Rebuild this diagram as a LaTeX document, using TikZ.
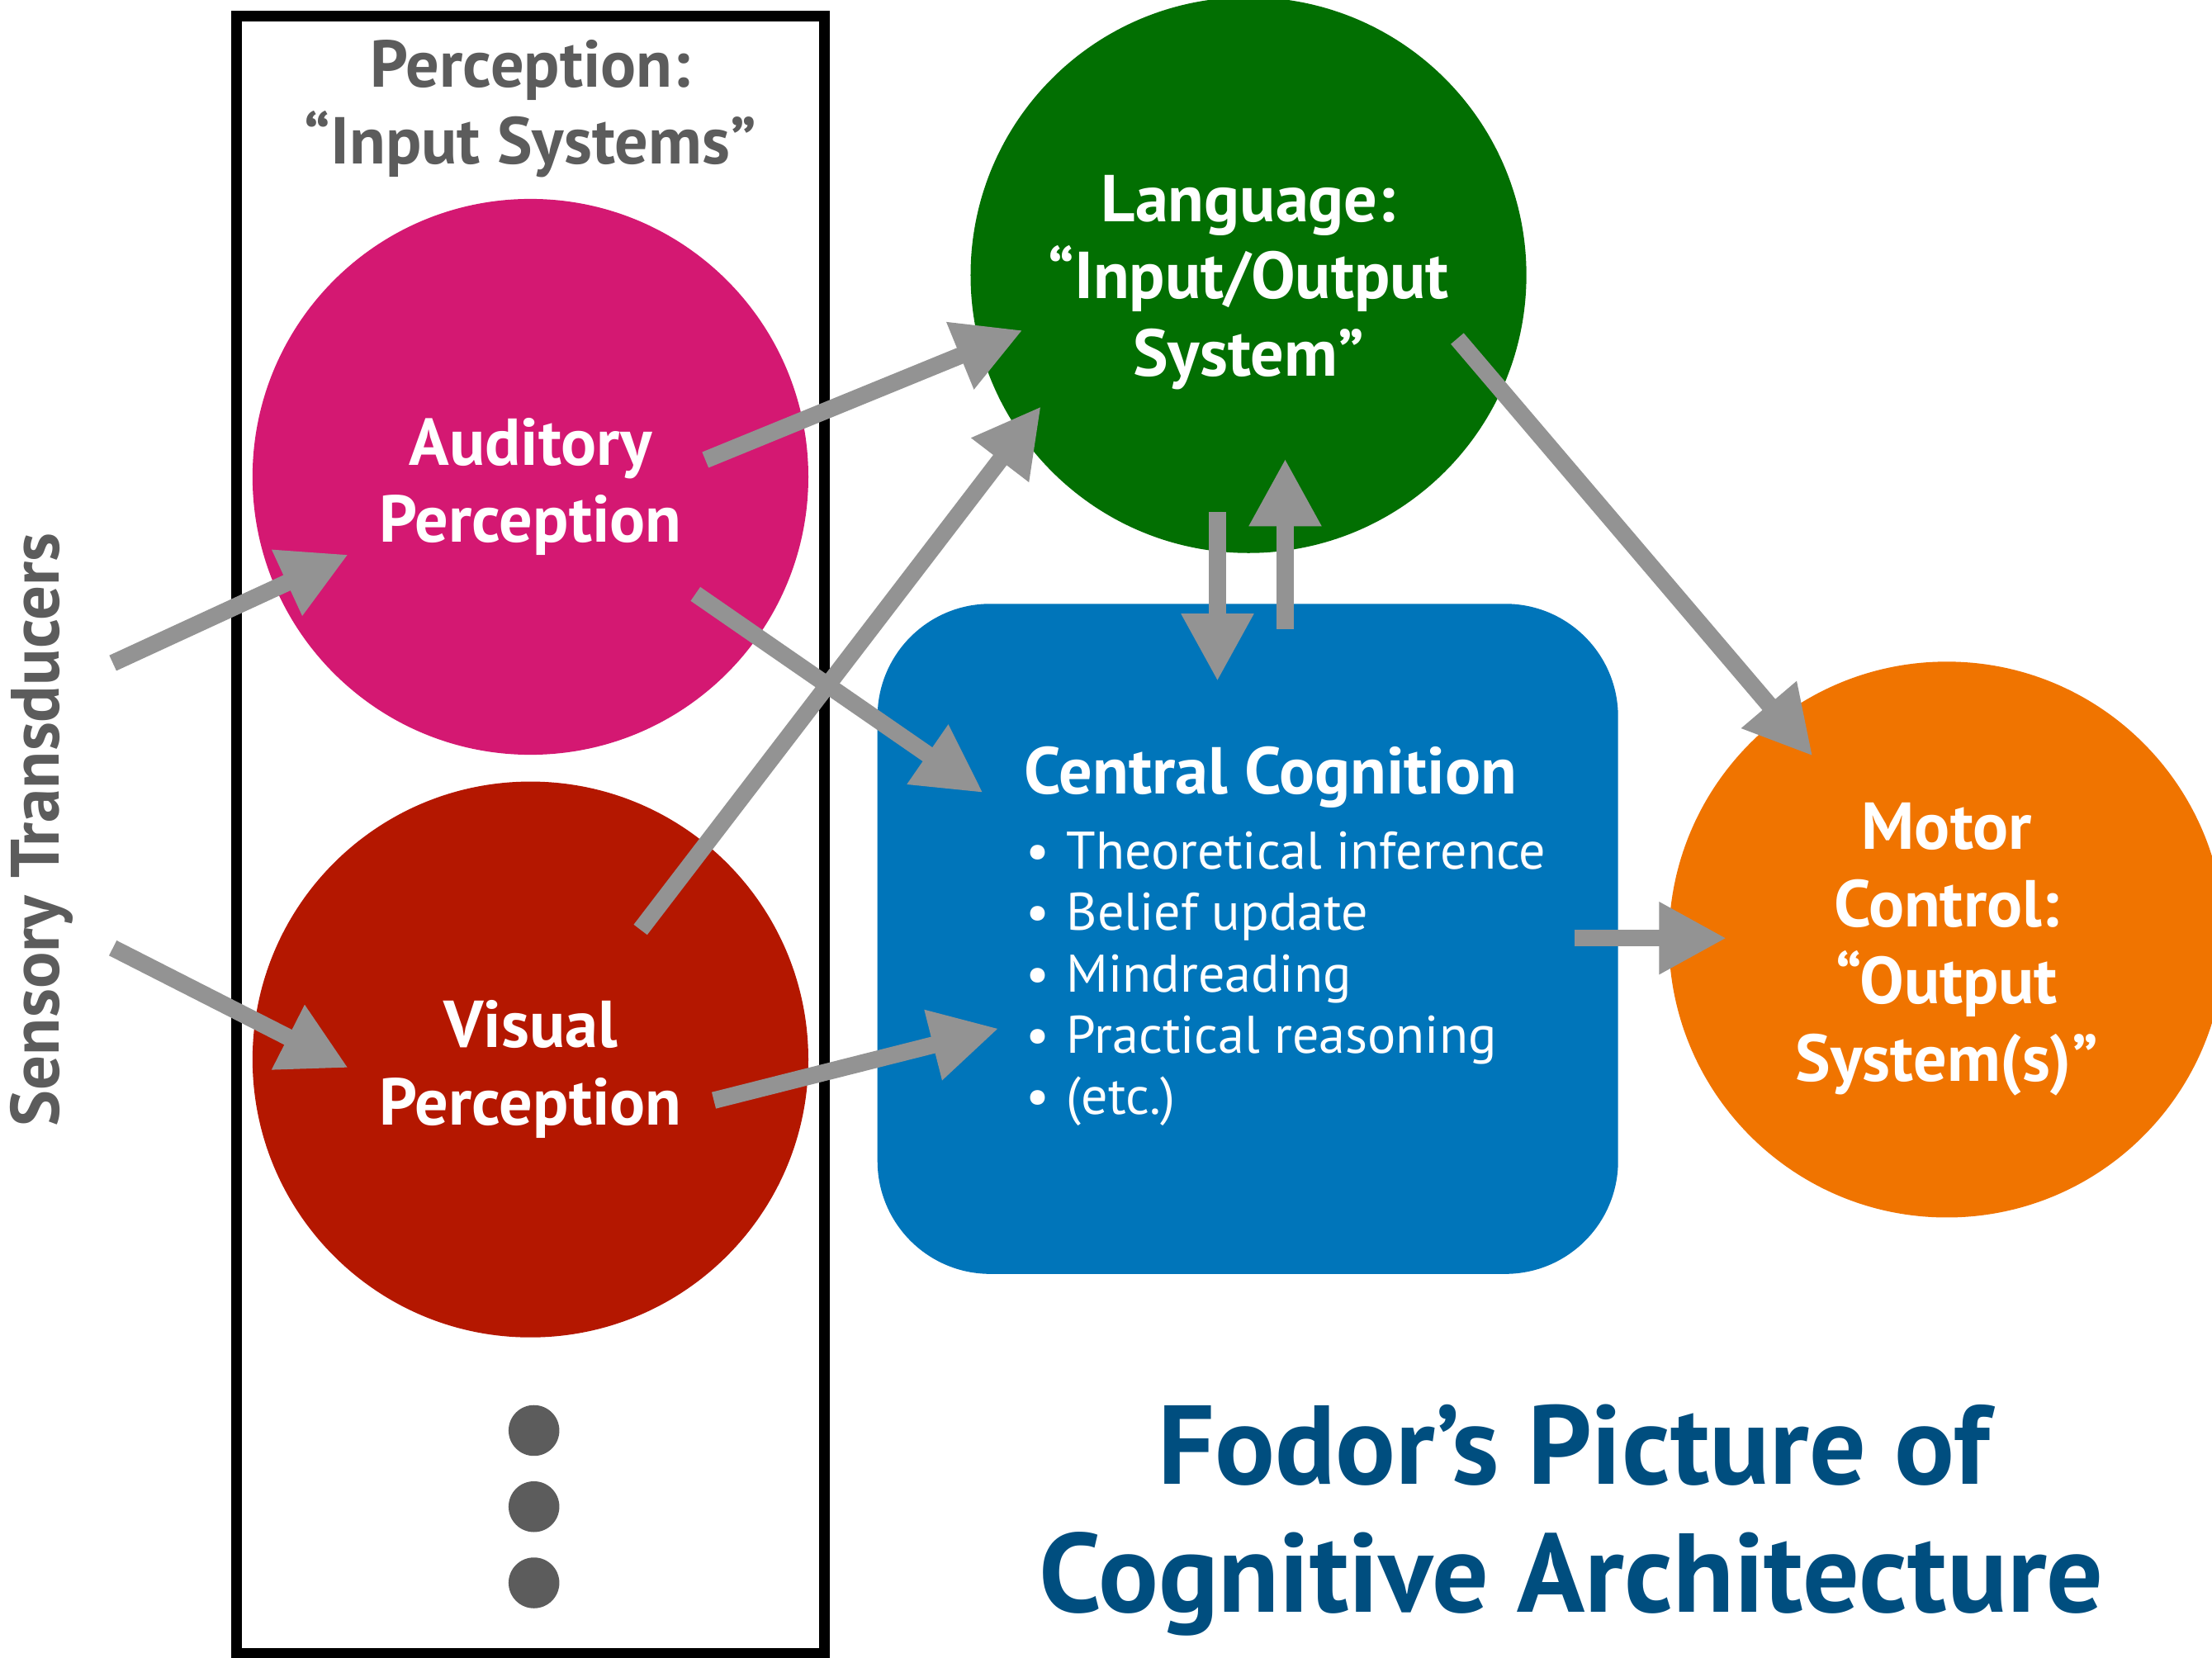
\documentclass[tikz,border=0pt]{standalone}
\usepackage{fontspec}
\setmainfont{PT Sans}
\usetikzlibrary{arrows.meta}
\definecolor{pinkc}{RGB}{212,24,114}
\definecolor{redc}{RGB}{180,23,0}
\definecolor{greenc}{RGB}{2,111,2}
\definecolor{orangec}{RGB}{240,116,0}
\definecolor{bluec}{RGB}{0,117,186}
\definecolor{arrowc}{RGB}{147,147,147}
\definecolor{grayt}{RGB}{92,92,92}
\definecolor{titleblue}{RGB}{0,78,127}
\tikzset{
  bubble/.style={circle, minimum size=394pt, inner sep=0pt},
  lbl/.style={inner sep=0pt, text=white, align=center,
    font=\fontsize{47}{54.7}\selectfont\bfseries},
  cbox/.style={rectangle, rounded corners=80pt, fill=bluec, minimum width=525pt, minimum height=475pt, inner sep=0pt},
  bullet/.style={anchor=base west, inner sep=0pt, text=white, font=\fontsize{37.5}{43.5}\selectfont},
  graytxt/.style={text=grayt, align=center, inner sep=0pt, font=\fontsize{47}{54}\selectfont\bfseries},
  titletxt/.style={anchor=base, inner sep=0pt, text=titleblue, font=\fontsize{79.5}{91}\selectfont\bfseries},
  dot/.style={circle, fill=grayt, minimum size=36pt, inner sep=0pt},
  arr/.style={draw=arrowc, line width=12pt, -{Triangle[width=48pt,length=48pt]}},
}
\begin{document}
\begin{tikzpicture}[x=1pt,y=-1pt]
\useasboundingbox (0,0) rectangle (1568,1175);
\clip (0,0) rectangle (1568,1175);
\fill[white] (0,0) rectangle (1568,1175);
% frame of input systems
\node[draw=black, line width=7.5pt, minimum width=417pt, minimum height=1160.5pt, inner sep=0pt] (frame) at (376,591.75) {};
\node[graytxt] (ptitle) at (376,77) {Perception:\\“Input Systems”};
% modules
\node[bubble, fill=pinkc] (aud) at (376,338) {};
\node[lbl] (audt) at (376,345) {Auditory\\Perception};
\node[bubble, fill=redc] (vis) at (376,751) {};
\node[lbl] (vist) at (376,758) {Visual\\Perception};
\node[bubble, fill=greenc] (lang) at (885,195) {};
\node[lbl] (langt) at (885,200) {Language:\\“Input/Output\\System”};
\node[bubble, fill=orangec] (motor) at (1380,666) {};
\node[lbl] (motort) at (1380,673) {Motor\\Control:\\“Output\\System(s)”};
\node[cbox] (cc) at (884.5,665.5) {};
\node[anchor=base west, inner sep=0pt, text=white, font=\fontsize{47}{52}\selectfont\bfseries] (cctitle) at (726,563) {Central Cognition};
\node[bullet] (b1) at (727,616) {\makebox[29pt][l]{•}Theoretical inference};
\node[bullet] (b2) at (727,659.5) {\makebox[29pt][l]{•}Belief update};
\node[bullet] (b3) at (727,703) {\makebox[29pt][l]{•}Mindreading};
\node[bullet] (b4) at (727,746.5) {\makebox[29pt][l]{•}Practical reasoning};
\node[bullet] (b5) at (727,790) {\makebox[29pt][l]{•}(etc.)};
% side label
\node[rotate=90, inner sep=0pt, text=grayt, font=\fontsize{48.5}{50}\selectfont\bfseries] (sens) at (29.5,588) {Sensory Transducers};
% dots
\node[dot] (d1) at (378.5,1014) {};
\node[dot] (d2) at (378.5,1068) {};
\node[dot] (d3) at (378.5,1122) {};
% title
\node[titletxt] (t1) at (1115.5,1052) {Fodor’s Picture of};
\node[titletxt] (t2) at (1114,1143) {Cognitive Architecture};
% arrow end points
\coordinate (s1) at (80,470);   \coordinate (e1) at (247,393);
\coordinate (s2) at (80,672);   \coordinate (e2) at (247,757);
\coordinate (s3) at (500,326);  \coordinate (e3) at (725,234);
\coordinate (s4) at (493,421);  \coordinate (e4) at (697,562);
\coordinate (s5) at (454,659);  \coordinate (e5) at (738,288);
\coordinate (s6) at (506,780);  \coordinate (e6) at (708,729);
\coordinate (s7) at (863,363);  \coordinate (e7) at (863,483);
\coordinate (s8) at (911,446);  \coordinate (e8) at (911,325);
\coordinate (s9) at (1033,240); \coordinate (e9) at (1285,536);
\coordinate (s10) at (1116,665); \coordinate (e10) at (1224,665);
\draw[arr] (s1) -- (e1);
\draw[arr] (s2) -- (e2);
\draw[arr] (s3) -- (e3);
\draw[arr] (s4) -- (e4);
\draw[arr] (s5) -- (e5);
\draw[arr] (s6) -- (e6);
\draw[arr] (s7) -- (e7);
\draw[arr] (s8) -- (e8);
\draw[arr] (s9) -- (e9);
\draw[arr] (s10) -- (e10);
\end{tikzpicture}
\end{document}
